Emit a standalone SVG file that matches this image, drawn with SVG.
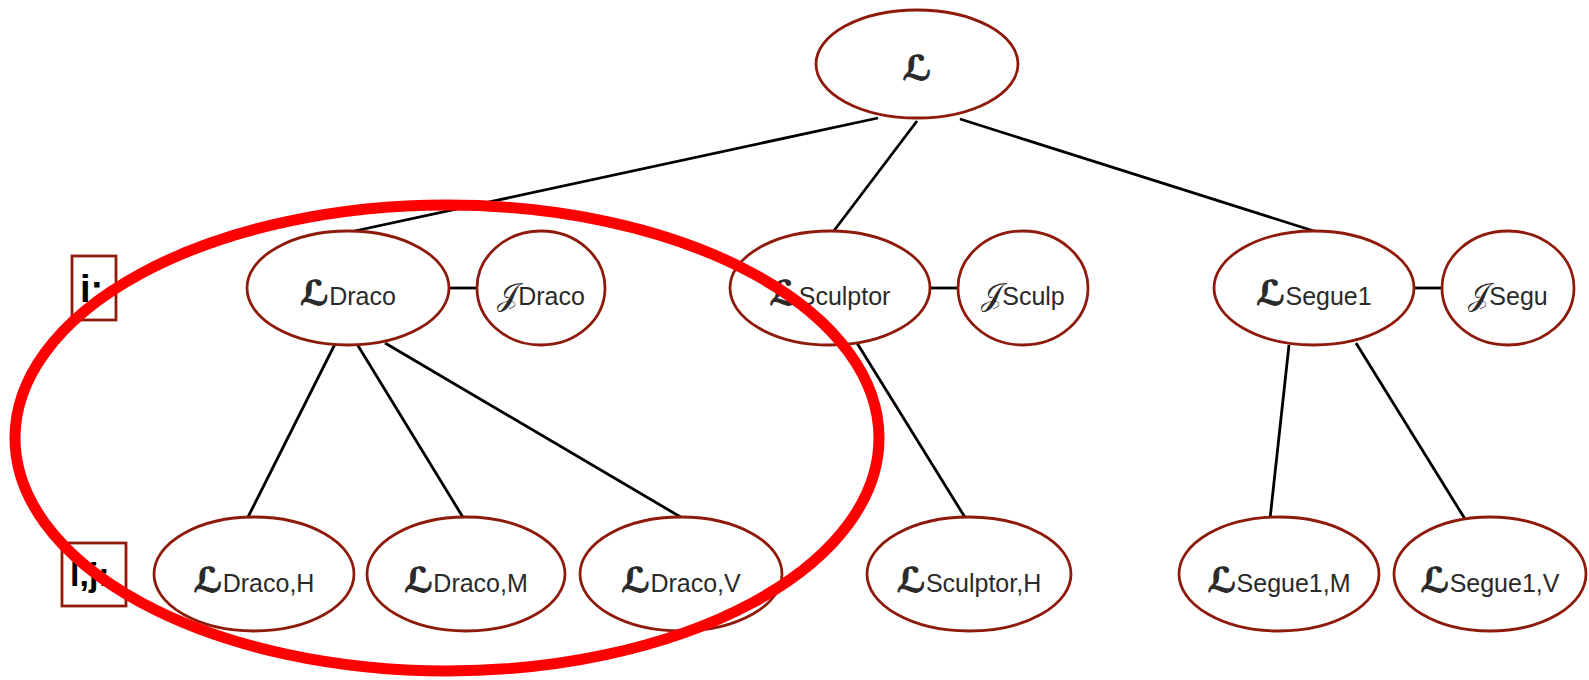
<svg xmlns="http://www.w3.org/2000/svg" width="1589" height="680" viewBox="0 0 1589 680">
<style>
.n{fill:#fff;stroke:#8e1a0c;stroke-width:2.8}
.t{font-family:"Liberation Sans",Arial,sans-serif;font-size:25px;fill:#2a2a2a;text-anchor:middle}
.s{font-family:"DejaVu Sans",sans-serif;font-size:34px;font-weight:bold;stroke:#2a2a2a;stroke-width:1}
.j{font-family:"DejaVu Sans",sans-serif;font-size:31px;font-weight:normal}
.c{stroke:#000;stroke-width:2.8;fill:none}
.lb{fill:#fff;stroke:#8e1a0c;stroke-width:2.8}
.lt{font-family:"Liberation Sans",Arial,sans-serif;font-weight:bold;fill:#000}
</style>
<rect width="1589" height="680" fill="#fff"/>
<g id="connectors">
<line class="c" x1="878" y1="118" x2="350" y2="232"/>
<line class="c" x1="917" y1="121" x2="833" y2="232"/>
<line class="c" x1="960" y1="119" x2="1317" y2="232"/>
<line class="c" x1="449" y1="288" x2="477" y2="288"/>
<line class="c" x1="930" y1="288" x2="958" y2="288"/>
<line class="c" x1="1414" y1="288" x2="1442" y2="288"/>
<line class="c" x1="335" y1="344" x2="247" y2="519"/>
<line class="c" x1="357" y1="344" x2="464" y2="519"/>
<line class="c" x1="385" y1="343" x2="684" y2="519"/>
<line class="c" x1="857" y1="343" x2="966" y2="519"/>
<line class="c" x1="1289" y1="345" x2="1270" y2="519"/>
<line class="c" x1="1356" y1="343" x2="1465" y2="519"/>
</g>
<g id="label-i"><rect class="lb" x="72" y="256" width="44" height="64"/><text class="lt" x="80" y="302" font-size="38">i:</text></g>
<g id="label-lj"><rect class="lb" x="62" y="543" width="64" height="63"/><text class="lt" x="70" y="586" font-size="34">l,j:</text></g>
<g id="n-L"><ellipse class="n" cx="917" cy="64" rx="101" ry="54"/><text class="t" x="917" y="80"><tspan class="s">ℒ</tspan></text></g>
<g id="n-LDraco"><ellipse class="n" cx="348" cy="288" rx="101" ry="57"/><text class="t" x="348" y="305"><tspan class="s">ℒ</tspan>Draco</text></g>
<g id="n-JDraco"><ellipse class="n" cx="541" cy="288" rx="64" ry="57"/><text class="t" x="541" y="305"><tspan class="j">𝒥</tspan>Draco</text></g>
<g id="n-LSculptor"><ellipse class="n" cx="830" cy="288" rx="100" ry="57"/><text class="t" x="830" y="305"><tspan class="s">ℒ</tspan>Sculptor</text></g>
<g id="n-JSculp"><ellipse class="n" cx="1023" cy="288" rx="65" ry="57"/><text class="t" x="1023" y="305"><tspan class="j">𝒥</tspan>Sculp</text></g>
<g id="n-LSegue1"><ellipse class="n" cx="1314" cy="288" rx="100" ry="57"/><text class="t" x="1314" y="305"><tspan class="s">ℒ</tspan>Segue1</text></g>
<g id="n-JSegu"><ellipse class="n" cx="1508" cy="288" rx="66" ry="57"/><text class="t" x="1508" y="305"><tspan class="j">𝒥</tspan>Segu</text></g>
<g id="n-LDracoH"><ellipse class="n" cx="254" cy="574" rx="100" ry="57"/><text class="t" x="254" y="592"><tspan class="s">ℒ</tspan>Draco,H</text></g>
<g id="n-LDracoM"><ellipse class="n" cx="466" cy="574" rx="99" ry="57"/><text class="t" x="466" y="592"><tspan class="s">ℒ</tspan>Draco,M</text></g>
<g id="n-LDracoV"><ellipse class="n" cx="681" cy="574" rx="101" ry="57"/><text class="t" x="681" y="592"><tspan class="s">ℒ</tspan>Draco,V</text></g>
<g id="n-LSculptorH"><ellipse class="n" cx="969" cy="574" rx="102" ry="57"/><text class="t" x="969" y="592"><tspan class="s">ℒ</tspan>Sculptor,H</text></g>
<g id="n-LSegue1M"><ellipse class="n" cx="1279" cy="574" rx="100" ry="57"/><text class="t" x="1279" y="592"><tspan class="s">ℒ</tspan>Segue1,M</text></g>
<g id="n-LSegue1V"><ellipse class="n" cx="1490" cy="574" rx="96" ry="57"/><text class="t" x="1490" y="592"><tspan class="s">ℒ</tspan>Segue1,V</text></g>
<ellipse id="highlight" cx="447" cy="438" rx="432" ry="233" fill="none" stroke="#ff0000" stroke-width="11"/>
</svg>
